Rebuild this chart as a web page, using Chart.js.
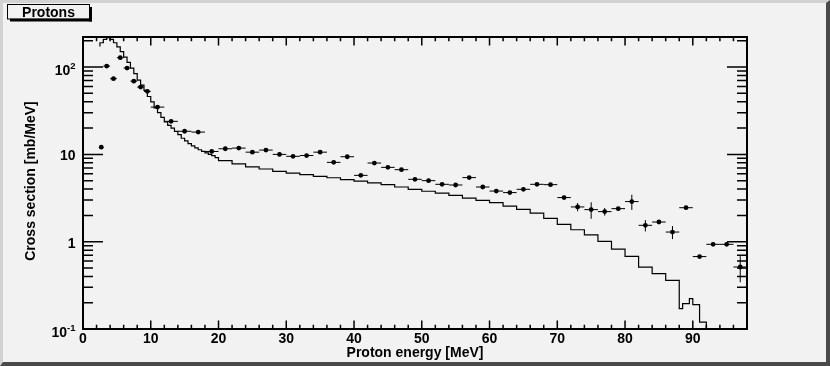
<!DOCTYPE html>
<html><head><meta charset="utf-8">
<script src="https://cdn.jsdelivr.net/npm/chart.js@4/dist/chart.umd.min.js"></script>
<style>html,body{margin:0;padding:0;background:#f2f2f2;}canvas{display:block;}</style>
</head><body>
<canvas id="c" width="830" height="366"></canvas>
<script>
const chartTitle = "Protons";
const xTitle = "Proton energy [MeV]";
const yTitle = "Cross section [mb/MeV]";
const xRange = [0, 98];
const yRange = [0.1, 221];
const xMajorTicks = [0, 10, 20, 30, 40, 50, 60, 70, 80, 90];
const xTickLabels = ["0", "10", "20", "30", "40", "50", "60", "70", "80", "90"];
const xMinorStep = 2;
const yMajorTicks = [0.1, 1, 10, 100];
const yTickLabels = [["10", "-1"], ["1", ""], ["10", ""], ["10", "2"]];

// Simulation histogram (bin edges in MeV, contents in mb/MeV)
const histEdges = [2.5, 3, 3.5, 4, 4.5, 5, 5.5, 6, 6.5, 7, 7.5, 8, 8.5, 9, 9.5, 10, 10.5, 11, 11.5, 12,
  12.5, 13, 13.5, 14, 14.5, 15, 15.5, 16, 16.5, 17, 17.5, 18, 18.5, 19, 19.5, 20,
  22, 24, 26, 28, 30, 32, 34, 36, 38, 40, 42, 44, 46, 48, 50, 52, 54, 56, 58, 60,
  62, 64, 66, 68, 70, 72, 74, 76, 78, 80, 82, 84, 86, 88,
  88.5, 89.5, 90, 91, 91.5, 92];
const histValues = [172, 190, 208, 217, 208, 190, 170, 150, 130, 113, 97, 84, 71, 62, 54, 46, 40, 34, 30,
  26.5, 23.5, 21.5, 20, 18.3, 16.8, 15.3, 14.3, 13.3, 12.5, 11.9, 11.3, 10.8, 10.4, 10.0, 9.7,
  9.2, 8.5, 7.8, 7.2, 6.8, 6.4, 6.1, 5.85, 5.6, 5.4, 5.15, 4.95, 4.72, 4.5, 4.23, 3.98, 3.78, 3.6,
  3.4, 3.16, 2.98, 2.8, 2.56, 2.34, 2.12, 1.85, 1.58, 1.37, 1.2, 1.01, 0.82, 0.68, 0.51, 0.43,
  0.36, 0.171, 0.195, 0.223, 0.19, 0.12];

// Measured points
const dataEnergy = [2.7, 3.5, 4.5, 5.5, 6.5, 7.5, 8.5, 9.5, 11, 13, 15, 17, 19, 21, 23, 25, 27, 29, 31, 33,
  35, 37, 39, 41, 43, 45, 47, 49, 51, 53, 55, 57, 59, 61, 63, 65, 67, 69, 71, 73, 75, 77, 79, 81, 83,
  85, 87, 89, 91, 93, 95, 97];
const dataEnergyErr = [0.25, 0.5, 0.5, 0.5, 0.5, 0.5, 0.5, 0.5, 1, 1, 1, 1, 1, 1, 1, 1, 1, 1, 1, 1,
  1, 1, 1, 1, 1, 1, 1, 1, 1, 1, 1, 1, 1, 1, 1, 1, 1, 1, 1, 1, 1, 1, 1, 1, 1,
  1, 1, 1, 1, 1, 1, 1];
const dataSigma = [12.1, 102.6, 73.6, 128, 97.5, 69, 59, 52.7, 34.8, 23.9, 18.4, 18.0, 10.8, 11.6, 11.8,
  10.6, 11.2, 10.0, 9.5, 9.7, 10.6, 8.1, 9.4, 5.75, 7.96, 7.1, 6.68, 5.18, 5.0, 4.54, 4.46, 5.42,
  4.23, 3.8, 3.65, 3.98, 4.54, 4.5, 3.2, 2.5, 2.33, 2.21, 2.39, 2.88, 1.54, 1.68, 1.29, 2.45,
  0.675, 0.933, 0.933, 0.513];
const dataSigmaErr = [0.4, 3, 2.2, 3.8, 2.9, 2, 1.8, 1.6, 1.0, 0.7, 0.55, 0.55, 0.3, 0.3, 0.3,
  0.3, 0.3, 0.3, 0.3, 0.3, 0.3, 0.25, 0.3, 0.2, 0.25, 0.2, 0.2, 0.18, 0.18, 0.16, 0.16, 0.2,
  0.16, 0.15, 0.15, 0.16, 0.18, 0.18, 0.15, 0.27, 0.5, 0.22, 0.1, 0.57, 0.23, 0.08, 0.22, 0.1,
  0.03, 0.04, 0.04, 0.17];

const FONT = '"Liberation Sans", Arial, Helvetica, sans-serif';

const histPoints = histValues.map((v, i) => ({x: histEdges[i], y: v}));
histPoints.push({x: histEdges[histEdges.length - 1], y: histValues[histValues.length - 1]});
histPoints.push({x: histEdges[histEdges.length - 1], y: yRange[0]});
const dataPoints = dataEnergy.map((e, i) => ({x: e, y: dataSigma[i]}));

const rootStyle = {
  id: 'rootStyle',
  beforeDraw(chart) {
    const c = chart.ctx, W = chart.width, H = chart.height;
    c.save();
    c.fillStyle = '#f2f2f2'; c.fillRect(0, 0, W, H);
    c.fillStyle = '#d2d2d2';
    c.beginPath(); c.moveTo(0, 0); c.lineTo(W, 0); c.lineTo(W - 4, 3); c.lineTo(3, 3); c.lineTo(3, H - 4); c.lineTo(0, H); c.closePath(); c.fill();
    c.fillStyle = '#4a4a4a';
    c.beginPath(); c.moveTo(W, 0); c.lineTo(W, H); c.lineTo(0, H); c.lineTo(3, H - 4); c.lineTo(W - 4, H - 4); c.lineTo(W - 4, 3); c.closePath(); c.fill();
    c.restore();
  },
  beforeDatasetsDraw(chart) {
    const xs = chart.scales.x, ys = chart.scales.y, c = chart.ctx;
    c.save(); c.strokeStyle = '#000'; c.lineWidth = 1;
    c.beginPath();
    dataEnergy.forEach((e, i) => {
      const y = ys.getPixelForValue(dataSigma[i]);
      const x = xs.getPixelForValue(e);
      c.moveTo(xs.getPixelForValue(e - dataEnergyErr[i]), y);
      c.lineTo(xs.getPixelForValue(e + dataEnergyErr[i]), y);
      c.moveTo(x, ys.getPixelForValue(dataSigma[i] - dataSigmaErr[i]));
      c.lineTo(x, ys.getPixelForValue(dataSigma[i] + dataSigmaErr[i]));
    });
    c.stroke(); c.restore();
  },
  afterDraw(chart) {
    const c = chart.ctx, a = chart.chartArea, xs = chart.scales.x, ys = chart.scales.y;
    c.save();
    // frame
    c.strokeStyle = '#000'; c.lineWidth = 2;
    c.strokeRect(a.left, a.top, a.right - a.left, a.bottom - a.top);
    // ticks
    c.lineWidth = 1.5;
    c.beginPath();
    for (let v = xRange[0]; v <= xRange[1] + 1e-9; v += xMinorStep) {
      const px = xs.getPixelForValue(v);
      const len = xMajorTicks.includes(v) ? 8.5 : 4.3;
      c.moveTo(px, a.bottom); c.lineTo(px, a.bottom - len);
      c.moveTo(px, a.top); c.lineTo(px, a.top + len);
    }
    const yTicks = [];
    yMajorTicks.forEach(d => {
      yTicks.push([d, 20]);
      for (let k = 2; k <= 9; k++) if (d * k < yRange[1]) yTicks.push([d * k, 10]);
    });
    yTicks.forEach(([v, len]) => {
      const py = ys.getPixelForValue(v);
      c.moveTo(a.left, py); c.lineTo(a.left + len, py);
      c.moveTo(a.right, py); c.lineTo(a.right - len, py);
    });
    c.stroke();
    // x tick labels
    c.fillStyle = '#000';
    c.font = 'bold 14px ' + FONT;
    c.textAlign = 'center'; c.textBaseline = 'alphabetic';
    xMajorTicks.forEach((v, i) => c.fillText(xTickLabels[i], xs.getPixelForValue(v), a.bottom + 13.5));
    // y tick labels
    const rightEdge = a.left - 7.5;
    yMajorTicks.forEach((v, i) => {
      const py = ys.getPixelForValue(v);
      const [base, sup] = yTickLabels[i];
      c.textAlign = 'right';
      if (sup) {
        c.font = 'bold 9.5px ' + FONT;
        const sw = c.measureText(sup).width;
        c.fillText(sup, rightEdge, py + 1.5);
        c.font = 'bold 14px ' + FONT;
        c.fillText(base, rightEdge - sw, py + 7.5);
      } else {
        c.font = 'bold 14px ' + FONT;
        c.fillText(base, rightEdge, py + 6);
      }
    });
    // axis titles
    c.font = 'bold 14px ' + FONT;
    c.textAlign = 'center';
    c.fillText(xTitle, (a.left + a.right) / 2, 357);
    c.save();
    c.translate(35, (a.top + a.bottom) / 2 - 2);
    c.rotate(-Math.PI / 2);
    c.fillText(yTitle, 0, 0);
    c.restore();
    // title box with shadow
    c.fillStyle = '#000';
    c.fillRect(89, 7, 3, 14.5);
    c.fillRect(10, 18.5, 82, 3);
    c.fillStyle = '#f2f2f2';
    c.fillRect(7, 4, 82, 14.5);
    c.strokeStyle = '#000'; c.lineWidth = 1;
    c.strokeRect(7.5, 4.5, 82, 14.5);
    c.fillStyle = '#000';
    c.font = 'bold 14px ' + FONT;
    c.textAlign = 'center';
    c.fillText(chartTitle, 48.5, 17);
    c.restore();
  }
};

new Chart(document.getElementById('c'), {
  data: {
    datasets: [
      {type: 'line', data: histPoints, stepped: 'after', borderColor: '#000', borderWidth: 1.2,
       pointRadius: 0, fill: false, order: 2},
      {type: 'scatter', data: dataPoints, pointRadius: 2.4, pointBackgroundColor: '#000',
       pointBorderColor: '#000', pointBorderWidth: 0, order: 1}
    ]
  },
  options: {
    responsive: false, animation: false, devicePixelRatio: 1, events: [],
    layout: {padding: {left: 83, right: 83, top: 37, bottom: 37}},
    scales: {
      x: {type: 'linear', min: xRange[0], max: xRange[1], display: false},
      y: {type: 'logarithmic', min: yRange[0], max: yRange[1], display: false}
    },
    plugins: {legend: {display: false}, tooltip: {enabled: false}, title: {display: false}}
  },
  plugins: [rootStyle]
});
</script>
</body></html>
